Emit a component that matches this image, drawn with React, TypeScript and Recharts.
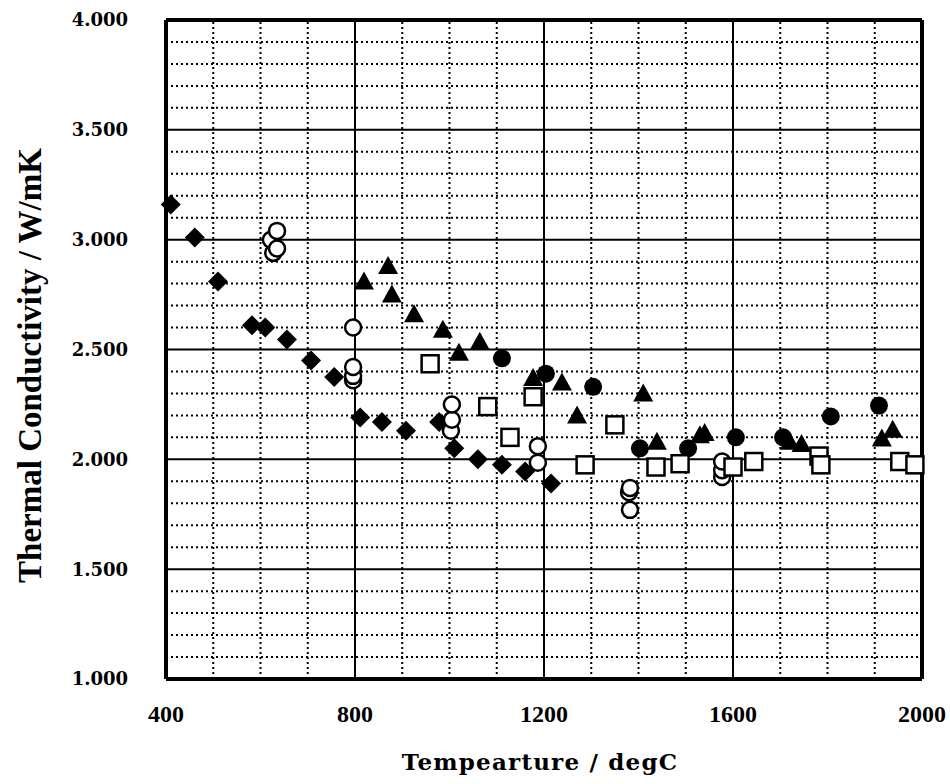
import { ScatterChart, Scatter, XAxis, YAxis, ReferenceLine } from 'recharts';

// temperature (degC) / thermal conductivity (W/mK)
const diamondPoints = [
  { t: 410, k: 3.16 }, { t: 461, k: 3.01 }, { t: 510, k: 2.81 }, { t: 582, k: 2.61 },
  { t: 610, k: 2.6 }, { t: 656, k: 2.545 }, { t: 707, k: 2.45 }, { t: 756, k: 2.375 },
  { t: 811, k: 2.19 }, { t: 857, k: 2.17 }, { t: 908, k: 2.13 }, { t: 978, k: 2.17 },
  { t: 1010, k: 2.05 }, { t: 1060, k: 2.0 }, { t: 1111, k: 1.975 }, { t: 1160, k: 1.945 },
  { t: 1215, k: 1.89 },
];

const openCirclePoints = [
  { t: 627, k: 2.94 }, { t: 622, k: 3.0 }, { t: 635, k: 3.04 }, { t: 635, k: 2.96 },
  { t: 796, k: 2.6 }, { t: 796, k: 2.36 }, { t: 796, k: 2.38 }, { t: 796, k: 2.42 },
  { t: 1003, k: 2.13 }, { t: 1005, k: 2.18 }, { t: 1005, k: 2.25 },
  { t: 1187, k: 2.06 }, { t: 1187, k: 1.985 },
  { t: 1382, k: 1.77 }, { t: 1380, k: 1.85 }, { t: 1382, k: 1.87 },
  { t: 1577, k: 1.92 }, { t: 1577, k: 1.95 }, { t: 1577, k: 1.99 },
];

const trianglePoints = [
  { t: 819, k: 2.81 }, { t: 870, k: 2.88 }, { t: 878, k: 2.75 }, { t: 925, k: 2.66 },
  { t: 986, k: 2.59 }, { t: 1020, k: 2.485 }, { t: 1064, k: 2.535 }, { t: 1177, k: 2.37 },
  { t: 1238, k: 2.35 }, { t: 1270, k: 2.2 }, { t: 1410, k: 2.3 }, { t: 1439, k: 2.08 },
  { t: 1530, k: 2.11 }, { t: 1540, k: 2.12 }, { t: 1720, k: 2.08 }, { t: 1745, k: 2.07 },
  { t: 1915, k: 2.095 }, { t: 1938, k: 2.135 },
];

const filledCirclePoints = [
  { t: 1111, k: 2.46 }, { t: 1204, k: 2.39 }, { t: 1304, k: 2.33 }, { t: 1403, k: 2.05 },
  { t: 1505, k: 2.05 }, { t: 1606, k: 2.1 }, { t: 1706, k: 2.1 }, { t: 1807, k: 2.195 },
  { t: 1909, k: 2.245 },
];

const squarePoints = [
  { t: 959, k: 2.435 }, { t: 1081, k: 2.24 }, { t: 1128, k: 2.1 }, { t: 1177, k: 2.285 },
  { t: 1287, k: 1.975 }, { t: 1350, k: 2.157 }, { t: 1437, k: 1.965 }, { t: 1488, k: 1.98 },
  { t: 1600, k: 1.965 }, { t: 1644, k: 1.99 }, { t: 1782, k: 2.015 }, { t: 1786, k: 1.975 },
  { t: 1953, k: 1.99 }, { t: 1985, k: 1.975 },
];

const xTicks = [400, 800, 1200, 1600, 2000];
const yTicks = [1, 1.5, 2, 2.5, 3, 3.5, 4];
const xMajorLines = [800, 1200, 1600];
const yMajorLines = [1.5, 2, 2.5, 3, 3.5];
const xMinorLines = [500, 600, 700, 900, 1000, 1100, 1300, 1400, 1500, 1700, 1800, 1900];
const yMinorLines = [
  1.1, 1.2, 1.3, 1.4, 1.6, 1.7, 1.8, 1.9, 2.1, 2.2, 2.3, 2.4,
  2.6, 2.7, 2.8, 2.9, 3.1, 3.2, 3.3, 3.4, 3.6, 3.7, 3.8, 3.9,
];

const INK = '#000';
const serif = '"Liberation Serif", "Times New Roman", serif';
const wideSerif = '"DejaVu Serif", serif';

function Diamond({ cx, cy }: any) {
  const r = 10;
  return <path d={`M${cx},${cy - r}L${cx + r},${cy}L${cx},${cy + r}L${cx - r},${cy}Z`} fill={INK} />;
}

function OpenCircle({ cx, cy }: any) {
  return <circle cx={cx} cy={cy} r={8} fill="#fff" stroke={INK} strokeWidth={2.5} />;
}

function Triangle({ cx, cy }: any) {
  return <path d={`M${cx},${cy - 10}L${cx + 10},${cy + 8}L${cx - 10},${cy + 8}Z`} fill={INK} />;
}

function FilledCircle({ cx, cy }: any) {
  return <circle cx={cx} cy={cy} r={9} fill={INK} />;
}

function Square({ cx, cy }: any) {
  return <rect x={cx - 8.5} y={cy - 8.5} width={17} height={17} fill="#fff" stroke={INK} strokeWidth={2.5} />;
}

function YTitle({ viewBox }: any) {
  const x = viewBox.x + 30;
  const y = viewBox.y + viewBox.height / 2 + 16;
  return (
    <text x={x} y={y} transform={`rotate(-90 ${x} ${y})`} textAnchor="middle" dominantBaseline="central"
      fontFamily={serif} fontWeight="bold" fontSize={33} fill={INK}>
      Thermal Conductivity / W/mK
    </text>
  );
}

function XTitle({ viewBox }: any) {
  return (
    <text x={viewBox.x + viewBox.width / 2 - 4} y={viewBox.y + 91} textAnchor="middle"
      fontFamily={wideSerif} fontWeight="bold" fontSize={23} letterSpacing={1.2} fill={INK}>
      Tempearture / degC
    </text>
  );
}

export default function App() {
  return (
    <div style={{ position: 'absolute', left: 0, top: 0, background: '#fff' }}>
      <ScatterChart width={950} height={784} margin={{ top: 20, right: 28, bottom: 0, left: 0 }}>
        <XAxis
          type="number"
          dataKey="t"
          domain={[400, 2000]}
          ticks={xTicks}
          interval={0}
          height={105}
          axisLine={false}
          tickLine={false}
          tickSize={0}
          tickMargin={26}
          tick={{ fill: INK, fontFamily: serif, fontWeight: 'bold', fontSize: 24 }}
          label={{ content: <XTitle /> }}
        />
        <YAxis
          type="number"
          dataKey="k"
          domain={[1, 4]}
          ticks={yTicks}
          interval={0}
          width={166}
          axisLine={false}
          tickLine={false}
          tickSize={0}
          tickMargin={38}
          tickFormatter={(v: number) => v.toFixed(3)}
          tick={{ fill: INK, fontFamily: wideSerif, fontWeight: 'bold', fontSize: 18 }}
          label={{ content: <YTitle /> }}
        />
        {xMinorLines.map((v) => (
          <ReferenceLine key={`xm${v}`} x={v} stroke={INK} strokeWidth={2} strokeDasharray="2 3" />
        ))}
        {yMinorLines.map((v) => (
          <ReferenceLine key={`ym${v}`} y={v} stroke={INK} strokeWidth={2} strokeDasharray="2 3" />
        ))}
        {xMajorLines.map((v) => (
          <ReferenceLine key={`xM${v}`} x={v} stroke={INK} strokeWidth={2} />
        ))}
        {yMajorLines.map((v) => (
          <ReferenceLine key={`yM${v}`} y={v} stroke={INK} strokeWidth={2} />
        ))}
        <ReferenceLine x={400} stroke={INK} strokeWidth={4} />
        <ReferenceLine x={2000} stroke={INK} strokeWidth={4} />
        <ReferenceLine y={1} stroke={INK} strokeWidth={4} />
        <ReferenceLine y={4} stroke={INK} strokeWidth={4} />
        <Scatter data={diamondPoints} shape={(p: any) => <Diamond cx={p.cx} cy={p.cy} />} isAnimationActive={false} />
        <Scatter data={openCirclePoints} shape={(p: any) => <OpenCircle cx={p.cx} cy={p.cy} />} isAnimationActive={false} />
        <Scatter data={trianglePoints} shape={(p: any) => <Triangle cx={p.cx} cy={p.cy} />} isAnimationActive={false} />
        <Scatter data={filledCirclePoints} shape={(p: any) => <FilledCircle cx={p.cx} cy={p.cy} />} isAnimationActive={false} />
        <Scatter data={squarePoints} shape={(p: any) => <Square cx={p.cx} cy={p.cy} />} isAnimationActive={false} />
      </ScatterChart>
    </div>
  );
}
